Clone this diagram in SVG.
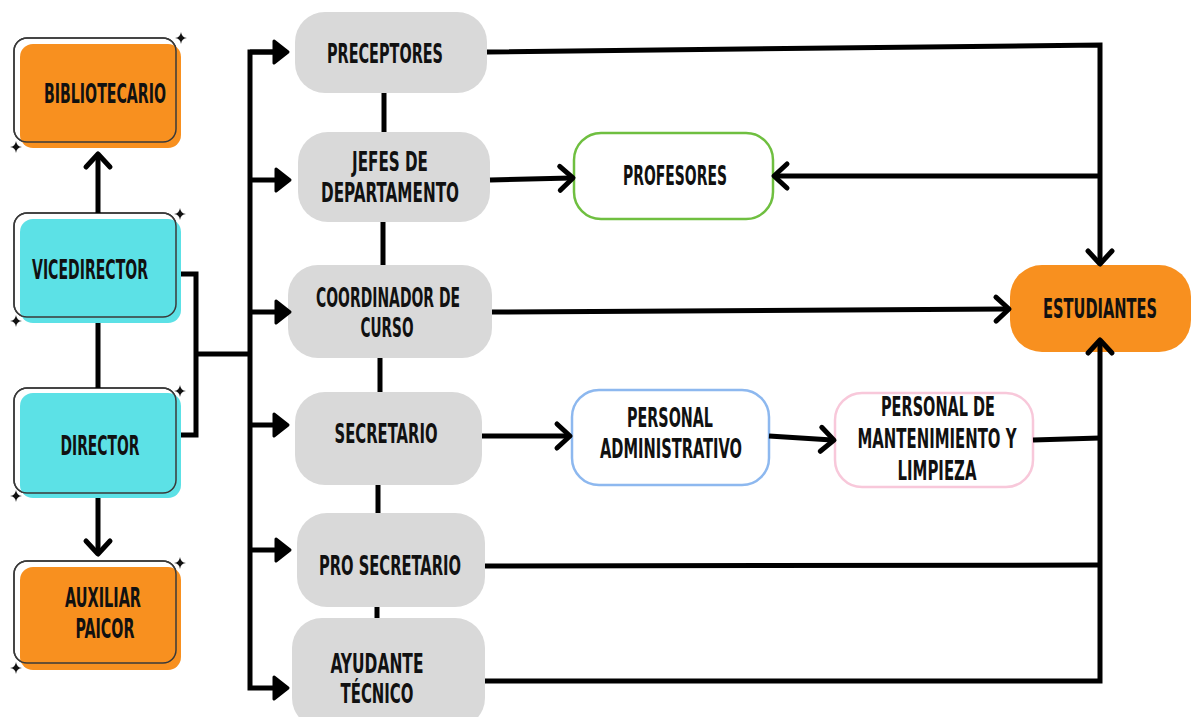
<svg xmlns="http://www.w3.org/2000/svg" xmlns:xlink="http://www.w3.org/1999/xlink" width="1198" height="717" viewBox="0 0 1198 717">
<style>
.t{font-family:"DejaVu Sans","Liberation Sans",sans-serif;font-stretch:condensed;font-weight:bold;font-size:26px;fill:#111;text-anchor:middle}
.ol{fill:#fff;stroke:#3a3a3a;stroke-width:1.5}
.olt{fill:none;stroke:#3a3a3a;stroke-width:1.5}
.or{fill:#f8901f}
.cy{fill:#5ce1e6}
.gr{fill:#d9d9d9}
.ln{fill:none;stroke:#000;stroke-width:5;stroke-linejoin:miter}
</style>
<defs>
<marker id="chev" markerUnits="userSpaceOnUse" markerWidth="40" markerHeight="40" viewBox="-20 -20 40 40" refX="-2" refY="0" orient="auto" overflow="visible">
<path d="M-13 -12 L0 0 L-13 12" fill="none" stroke="#000" stroke-width="5" stroke-linecap="round" stroke-linejoin="round"/>
</marker>
<marker id="tri" markerUnits="userSpaceOnUse" markerWidth="40" markerHeight="40" viewBox="-20 -20 40 40" refX="-1" refY="0" orient="auto" overflow="visible">
<path d="M-14 -11 L0 0 L-14 11 Z" fill="#000" stroke="#000" stroke-width="3" stroke-linejoin="round"/>
</marker>
<path id="spark" d="M0 -6 Q0.6 -0.6 6 0 Q0.6 0.6 0 6 Q-0.6 0.6 -6 0 Q-0.6 -0.6 0 -6Z" fill="#111"/>
</defs>

<g id="bibliotecario">
<rect class="ol" x="14" y="38" width="162" height="104" rx="13"/>
<rect class="or" x="20" y="44" width="161" height="104" rx="13"/>
<rect class="olt" x="14" y="38" width="162" height="104" rx="13"/>
<use href="#spark" x="181" y="38"/><use href="#spark" x="16" y="147"/>
<text class="t" x="105" y="103" textLength="122" lengthAdjust="spacingAndGlyphs">BIBLIOTECARIO</text>
</g>
<g id="vicedirector">
<rect class="ol" x="14" y="213" width="162" height="104" rx="13"/>
<rect class="cy" x="20" y="219" width="161" height="104" rx="13"/>
<rect class="olt" x="14" y="213" width="162" height="104" rx="13"/>
<use href="#spark" x="180" y="214"/><use href="#spark" x="16" y="321"/>
<text class="t" x="90" y="279" textLength="116" lengthAdjust="spacingAndGlyphs">VICEDIRECTOR</text>
</g>
<g id="director">
<rect class="ol" x="14" y="388" width="162" height="105" rx="13"/>
<rect class="cy" x="20" y="393" width="161" height="105" rx="13"/>
<rect class="olt" x="14" y="388" width="162" height="105" rx="13"/>
<use href="#spark" x="180" y="391"/><use href="#spark" x="16" y="496"/>
<text class="t" x="100" y="455" textLength="79" lengthAdjust="spacingAndGlyphs">DIRECTOR</text>
</g>
<g id="auxiliar">
<rect class="ol" x="14" y="561" width="162" height="102" rx="13"/>
<rect class="or" x="20" y="567" width="161" height="103" rx="13"/>
<rect class="olt" x="14" y="561" width="162" height="102" rx="13"/>
<use href="#spark" x="180" y="563"/><use href="#spark" x="16" y="668"/>
<text class="t" x="103" y="607" textLength="76" lengthAdjust="spacingAndGlyphs">AUXILIAR</text>
<text class="t" x="105" y="638" textLength="59" lengthAdjust="spacingAndGlyphs">PAICOR</text>
</g>

<g id="preceptores">
<rect class="gr" x="295" y="12" width="192" height="81" rx="30"/>
<text class="t" x="385" y="63" textLength="116" lengthAdjust="spacingAndGlyphs">PRECEPTORES</text>
</g>
<g id="jefes">
<rect class="gr" x="298" y="132" width="192" height="90" rx="30"/>
<text class="t" x="390" y="171" textLength="76" lengthAdjust="spacingAndGlyphs">JEFES DE</text>
<text class="t" x="390" y="202" textLength="138" lengthAdjust="spacingAndGlyphs">DEPARTAMENTO</text>
</g>
<g id="coordinador">
<rect class="gr" x="288" y="265" width="204" height="93" rx="30"/>
<text class="t" x="388" y="307" textLength="144" lengthAdjust="spacingAndGlyphs">COORDINADOR DE</text>
<text class="t" x="387" y="337" textLength="53" lengthAdjust="spacingAndGlyphs">CURSO</text>
</g>
<g id="secretario">
<rect class="gr" x="295" y="392" width="187" height="93" rx="30"/>
<text class="t" x="386" y="443" textLength="103" lengthAdjust="spacingAndGlyphs">SECRETARIO</text>
</g>
<g id="prosecretario">
<rect class="gr" x="297" y="513" width="188" height="94" rx="30"/>
<text class="t" x="390" y="575" textLength="142" lengthAdjust="spacingAndGlyphs">PRO SECRETARIO</text>
</g>
<g id="ayudante">
<rect class="gr" x="292" y="618" width="193" height="110" rx="30"/>
<text class="t" x="377" y="673" textLength="93" lengthAdjust="spacingAndGlyphs">AYUDANTE</text>
<text class="t" x="377" y="703" textLength="73" lengthAdjust="spacingAndGlyphs">TÉCNICO</text>
</g>

<g id="profesores">
<rect x="574" y="133" width="199" height="86" rx="27" fill="#fff" stroke="#6fbf40" stroke-width="2.5"/>
<text class="t" x="675" y="185" textLength="104" lengthAdjust="spacingAndGlyphs">PROFESORES</text>
</g>
<g id="personal-admin">
<rect x="572" y="390" width="197" height="95" rx="27" fill="#fff" stroke="#8db8ef" stroke-width="2.5"/>
<text class="t" x="670" y="427" textLength="86" lengthAdjust="spacingAndGlyphs">PERSONAL</text>
<text class="t" x="671" y="458" textLength="142" lengthAdjust="spacingAndGlyphs">ADMINISTRATIVO</text>
</g>
<g id="personal-mant">
<rect x="835" y="393" width="198" height="94" rx="27" fill="#fff" stroke="#f8c8da" stroke-width="2.5"/>
<text class="t" x="938" y="416" textLength="114" lengthAdjust="spacingAndGlyphs">PERSONAL DE</text>
<text class="t" x="937" y="448" textLength="159" lengthAdjust="spacingAndGlyphs">MANTENIMIENTO Y</text>
<text class="t" x="937" y="480" textLength="79" lengthAdjust="spacingAndGlyphs">LIMPIEZA</text>
</g>
<g id="estudiantes">
<rect class="or" x="1010" y="265" width="181" height="87" rx="32"/>
<text class="t" x="0" y="0" transform="translate(1100 318) scale(1 1.18)" style="font-size:22px" textLength="114" lengthAdjust="spacingAndGlyphs">ESTUDIANTES</text>
</g>

<g id="connectors">
<path class="ln" d="M98 213 L98 156" marker-end="url(#chev)"/>
<path class="ln" d="M98 323 L98 388"/>
<path class="ln" d="M98 498 L98 552" marker-end="url(#chev)"/>
<path class="ln" d="M181 274 L196 274 L196 435 L181 435"/>
<path class="ln" d="M196 354 L250 354"/>
<path class="ln" d="M287 52 L250 52 L250 688 L287 688" marker-end="url(#tri)"/>
<path class="ln" d="M250 52 L287 52" marker-end="url(#tri)"/>
<path class="ln" d="M250 180 L289 180" marker-end="url(#tri)"/>
<path class="ln" d="M250 312 L289 312" marker-end="url(#tri)"/>
<path class="ln" d="M250 425 L287 425" marker-end="url(#tri)"/>
<path class="ln" d="M250 550 L289 550" marker-end="url(#tri)"/>
<path class="ln" d="M384 93 L384 132"/>
<path class="ln" d="M383 222 L383 265"/>
<path class="ln" d="M380 358 L380 392"/>
<path class="ln" d="M378 485 L378 513"/>
<path class="ln" d="M377 607 L377 618"/>
<path class="ln" d="M487 52 L1100 45 L1100 262" marker-end="url(#chev)"/>
<path class="ln" d="M490 180 L571 178" marker-end="url(#chev)"/>
<path class="ln" d="M1100 176 L776 176" marker-end="url(#chev)"/>
<path class="ln" d="M492 312 L1007 309" marker-end="url(#chev)"/>
<path class="ln" d="M482 436 L568 436" marker-end="url(#chev)"/>
<path class="ln" d="M769 436 L832 440" marker-end="url(#chev)"/>
<path class="ln" d="M1033 440 L1100 438"/>
<path class="ln" d="M485 566 L1100 565"/>
<path class="ln" d="M485 681 L1100 681 L1100 342" marker-end="url(#chev)"/>
</g>
</svg>
